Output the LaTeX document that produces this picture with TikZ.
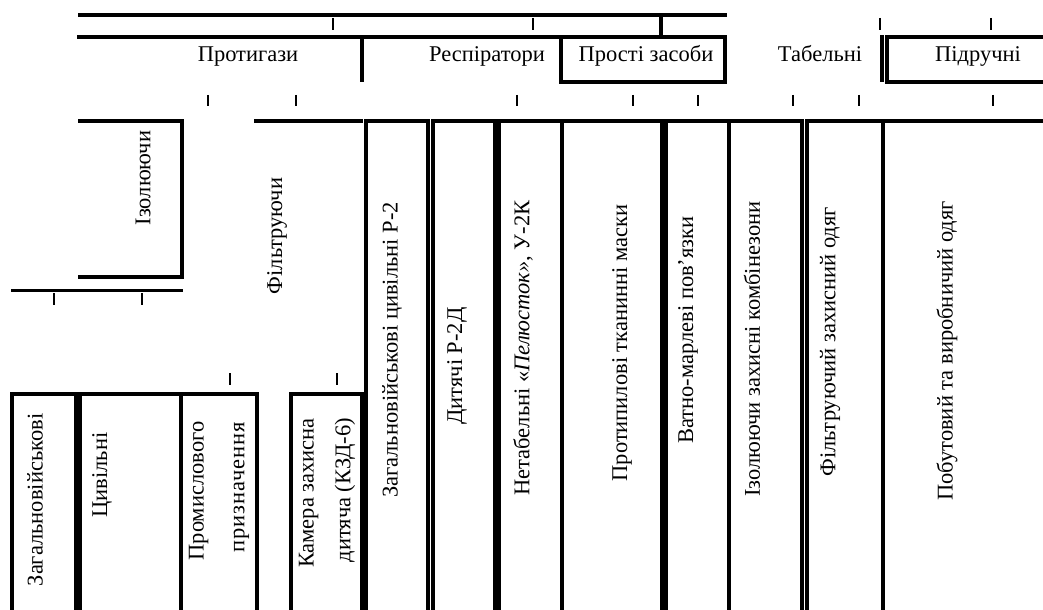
\documentclass[tikz,border=0pt]{standalone}
\usepackage{fontspec}
\setmainfont{Liberation Serif}
\usepackage{tikz}
\usetikzlibrary{positioning}

\begin{document}
\begin{tikzpicture}[
  x=0.025cm, y=-0.025cm,
  bar/.style={line width=2.2pt, line cap=rect},
  stub/.style={line width=1.4pt},
  thickstub/.style={line width=2.1pt},
  lbl/.style={font=\fontsize{16pt}{19pt}\selectfont, anchor=base, inner sep=0pt},
  vlbl/.style={font=\fontsize{16pt}{19pt}\selectfont, rotate=90, align=right, inner sep=0pt}
]
  \useasboundingbox (0,0) rectangle (1043,610);

  % top level
  \draw[bar] (80,15) -- (725,15);
  \draw[bar] (661,15) -- (661,37);
  \draw[bar] (79,37) -- (725,37);
  \draw[bar] (362,37) -- (362,80);
  \draw[bar] (561,37) -- (561,82) -- (725,82) -- (725,37);
  \draw[bar] (882,37) -- (882,80);
  \draw[bar] (1043,37) -- (887,37) -- (887,82) -- (1043,82);

  \node[lbl] (protyhazy) at (248,62) {Протигази};
  \node[lbl] (respir)    at (487,62) {Респіратори};
  \node[lbl] (prosti)    at (646,62) {Прості засоби};
  \node[lbl] (tabelni)   at (820,62) {Табельні};
  \node[lbl] (pidruchni) at (978,62) {Підручні};

  \draw[thickstub] (333,18) -- (333,30);
  \draw[thickstub] (533,18) -- (533,30);
  \draw[thickstub] (880,18) -- (880,30);
  \draw[thickstub] (991,18) -- (991,30);

  \draw[stub] (208,95) -- (208,106);
  \draw[stub] (296,95) -- (296,106);
  \draw[stub] (517,95) -- (517,106);
  \draw[stub] (633,95) -- (633,106);
  \draw[stub] (698,95) -- (698,106);
  \draw[stub] (793,95) -- (793,106);
  \draw[stub] (859,95) -- (859,106);
  \draw[stub] (993,95) -- (993,106);

  % gas masks
  \draw[bar] (80,121) -- (182,121) -- (182,277) -- (80,277);
  \draw[bar] (256,121) -- (361,121);
  \node[vlbl] (izol)  at (143,178) {Ізолюючи};
  \node[vlbl] (filtr) at (277,236) {Фільтруючи};

  \draw[bar] (13,290.5) -- (181,290.5);
  \draw[thickstub] (54,293) -- (54,305);
  \draw[stub] (142,293) -- (142,305);
  \draw[thickstub] (230,373) -- (230,385);
  \draw[thickstub] (337,373) -- (337,385);

  \draw[bar] (12,610) -- (12,394) -- (76,394) -- (76,610);
  \draw[bar] (80,610) -- (80,394) -- (257,394) -- (257,610);
  \draw[bar] (181,394) -- (181,610);
  \draw[bar] (291,610) -- (291,394) -- (362,394) -- (362,610);

  \node[vlbl] (zahviisk) at (35,500)  {Загальновійськові};
  \node[vlbl] (tsyvilni) at (102,475) {Цивільні};
  \node[vlbl] (promysl)  at (219,491) {Промислового\\[10pt]{\addfontfeature{LetterSpace=4.5}призначення}};
  \node[vlbl] (kzd)      at (327,493) {Камера захисна\\[7pt]дитяча (КЗД-6)};

  % respirators, simple means, protective clothing
  \draw[bar] (366,610) -- (366,121) -- (428,121) -- (428,610);
  \draw[bar] (433,610) -- (433,121) -- (495,121) -- (495,610);
  \draw[bar] (499,610) -- (499,121) -- (662,121) -- (662,610);
  \draw[bar] (562,121) -- (562,610);
  \draw[bar] (666,610) -- (666,121) -- (725,121);
  \draw[bar] (729,610) -- (729,121) -- (802,121) -- (802,610);
  \draw[bar] (807,610) -- (807,121) -- (883,121) -- (883,610);
  \draw[bar] (887,121) -- (1043,121);

  \node[vlbl] (r2)      at (392,350) {Загальновійськові цивільні Р-2};
  \node[vlbl] (r2d)     at (457,366) {Дитячі Р-2Д};
  \node[vlbl] (pelust)  at (523,348) {Нетабельні «\textit{Пелюсток»}, У-2К};
  \node[vlbl] (maska)   at (622,343) {Протипилові тканинні маски};
  \node[vlbl] (povyaz)  at (688,330) {Ватно-марлеві пов’язки};
  \node[vlbl] (kombin)  at (752,349) {Ізолюючи захисні комбінезони};
  \node[vlbl] (filtodyag) at (830,342) {Фільтруючий захисний одяг};
  \node[vlbl] (pobut)   at (947,351) {Побутовий та виробничий одяг};
\end{tikzpicture}
\end{document}
